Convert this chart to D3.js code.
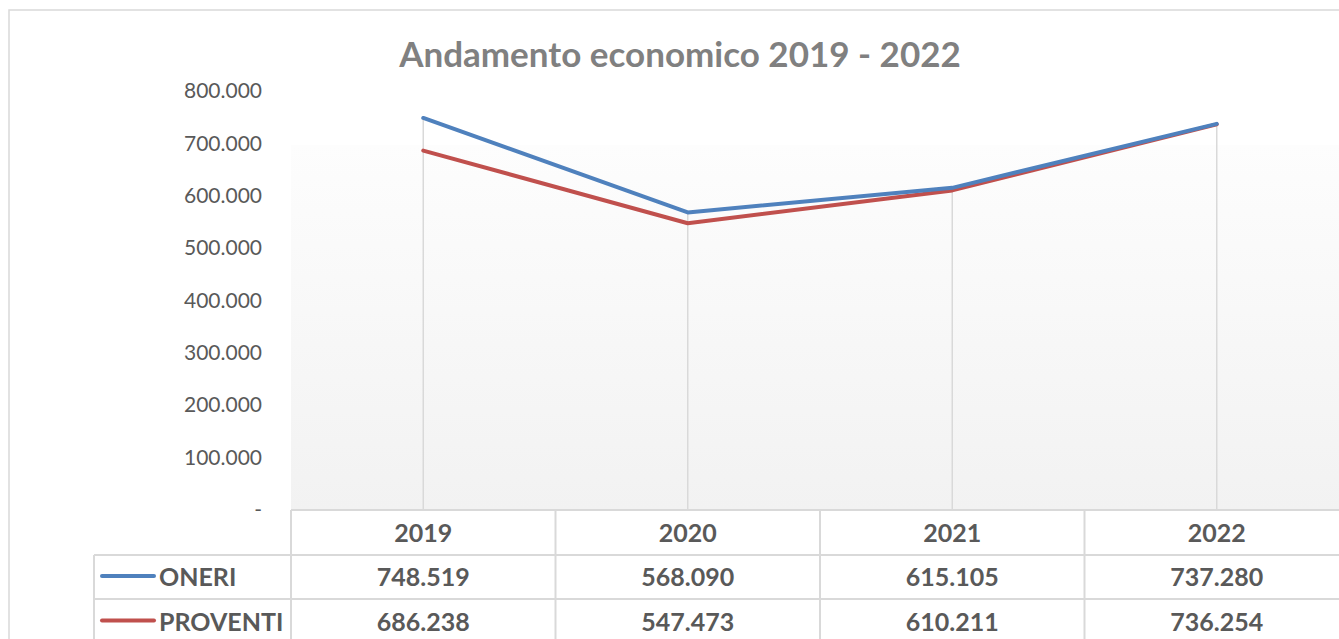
<!DOCTYPE html>
<html>
<head>
<meta charset="utf-8">
<script src="https://cdn.jsdelivr.net/npm/d3@7"></script>
<style>
  body { margin: 0; background: #fff; }
  text { font-family: Lato, "Open Sans", sans-serif; }
</style>
</head>
<body>
<script>
// Andamento economico - line chart with data table
var width = 1339;
var height = 639;

var years = ["2019", "2020", "2021", "2022"];
var oneri = [748519, 568090, 615105, 737280];
var proventi = [686238, 547473, 610211, 736254];
var seriesNames = ["ONERI", "PROVENTI"];
var seriesColors = ["#4f81bd", "#c0504d"];
var yTicks = [0, 100000, 200000, 300000, 400000, 500000, 600000, 700000, 800000];

var margin = {top: 91, left: 291, right: -10, bottom: 129};

var itLocale = d3.formatLocale({decimal: ",", thousands: ".", grouping: [3], currency: ["€", ""]});
var fmt = itLocale.format(",.0f");

var svg = d3.select("body")
  .append("svg")
  .attr("width", width)
  .attr("height", height);

var x = d3.scaleBand()
  .domain(years)
  .range([margin.left, width - margin.right]);

var y = d3.scaleLinear()
  .domain([0, 800000])
  .range([height - margin.bottom, margin.top]);

var grid = "#d9d9d9";
var textCol = "#595959";

// plot background gradient
var defs = svg.append("defs");
var grad = defs.append("linearGradient")
  .attr("id", "bg").attr("x1", 0).attr("y1", 0).attr("x2", 0).attr("y2", 1);
grad.append("stop").attr("offset", "0%").attr("stop-color", "#fdfdfd");
grad.append("stop").attr("offset", "100%").attr("stop-color", "#f2f2f2");

svg.append("rect")
  .attr("x", margin.left)
  .attr("y", 145)
  .attr("width", width - margin.left)
  .attr("height", y(0) - 145)
  .attr("fill", "url(#bg)");

// outer chart border
svg.append("path")
  .attr("d", "M9," + height + "V10H" + width)
  .attr("fill", "none")
  .attr("stroke", grid)
  .attr("stroke-width", 1.5);

// title
svg.append("text")
  .attr("x", 680)
  .attr("y", 67)
  .attr("text-anchor", "middle")
  .attr("font-size", 35)
  .attr("font-weight", "bold")
  .attr("fill", "#808080")
  .text("Andamento economico 2019 - 2022");

// y axis
var yAxis = svg.append("g")
  .attr("transform", "translate(" + 265 + ",0)")
  .call(d3.axisLeft(y).tickValues(yTicks).tickSize(0)
    .tickFormat(function(d) { return d === 0 ? "-" : fmt(d); }));
yAxis.select(".domain").remove();
yAxis.selectAll("text")
  .attr("font-family", "Lato, sans-serif")
  .attr("font-size", 21)
  .attr("fill", textCol)
  .attr("dx", 0);

// drop lines
var cx = function(d) { return x(d) + x.bandwidth() / 2; };
svg.selectAll(".drop")
  .data(years)
  .enter()
  .append("line")
    .attr("x1", cx).attr("x2", cx)
    .attr("y1", function(d, i) { return y(Math.max(oneri[i], proventi[i])); })
    .attr("y2", y(0))
    .attr("stroke", grid)
    .attr("stroke-width", 1.5);

// lines
var line = d3.line()
  .x(function(d, i) { return cx(years[i]); })
  .y(function(d) { return y(d); });

svg.selectAll(".series")
  .data([proventi, oneri])
  .enter()
  .append("path")
    .attr("d", line)
    .attr("fill", "none")
    .attr("stroke", function(d, i) { return i === 0 ? seriesColors[1] : seriesColors[0]; })
    .attr("stroke-width", 4)
    .attr("stroke-linejoin", "round")
    .attr("stroke-linecap", "round");

// data table
var rowTop = [y(0), 555, 599, 644];
var tbl = svg.append("g");

tbl.append("line")
  .attr("x1", margin.left).attr("x2", width)
  .attr("y1", rowTop[0]).attr("y2", rowTop[0])
  .attr("stroke", grid).attr("stroke-width", 2);
[rowTop[1], rowTop[2]].forEach(function(r) {
  tbl.append("line")
    .attr("x1", 94).attr("x2", width)
    .attr("y1", r).attr("y2", r)
    .attr("stroke", grid).attr("stroke-width", 2);
});
tbl.append("line")
  .attr("x1", 94).attr("x2", 94)
  .attr("y1", rowTop[1]).attr("y2", height)
  .attr("stroke", grid).attr("stroke-width", 2);
tbl.selectAll(".col")
  .data(years)
  .enter()
  .append("line")
    .attr("x1", function(d) { return x(d); })
    .attr("x2", function(d) { return x(d); })
    .attr("y1", rowTop[0]).attr("y2", height)
    .attr("stroke", grid).attr("stroke-width", 2);

// header
tbl.selectAll(".hdr")
  .data(years)
  .enter()
  .append("text")
    .attr("x", cx)
    .attr("y", (rowTop[0] + rowTop[1]) / 2 + 9)
    .attr("text-anchor", "middle")
    .attr("font-size", 25)
    .attr("font-weight", "bold")
    .attr("fill", textCol)
    .text(function(d) { return d; });

// rows
[oneri, proventi].forEach(function(vals, r) {
  var ty = (rowTop[r + 1] + rowTop[r + 2]) / 2;
  tbl.append("line")
    .attr("x1", 102).attr("x2", 154)
    .attr("y1", ty - 1).attr("y2", ty - 1)
    .attr("stroke", seriesColors[r])
    .attr("stroke-width", 4)
    .attr("stroke-linecap", "round");
  tbl.append("text")
    .attr("x", 159)
    .attr("y", ty + 9)
    .attr("font-size", 25)
    .attr("font-weight", "bold")
    .attr("fill", textCol)
    .text(seriesNames[r]);
  tbl.selectAll(".v" + r)
    .data(vals)
    .enter()
    .append("text")
      .attr("x", function(d, i) { return cx(years[i]); })
      .attr("y", ty + 9)
      .attr("text-anchor", "middle")
      .attr("font-size", 25)
      .attr("font-weight", "bold")
      .attr("fill", textCol)
      .text(function(d) { return fmt(d); });
});
</script>
</body>
</html>
